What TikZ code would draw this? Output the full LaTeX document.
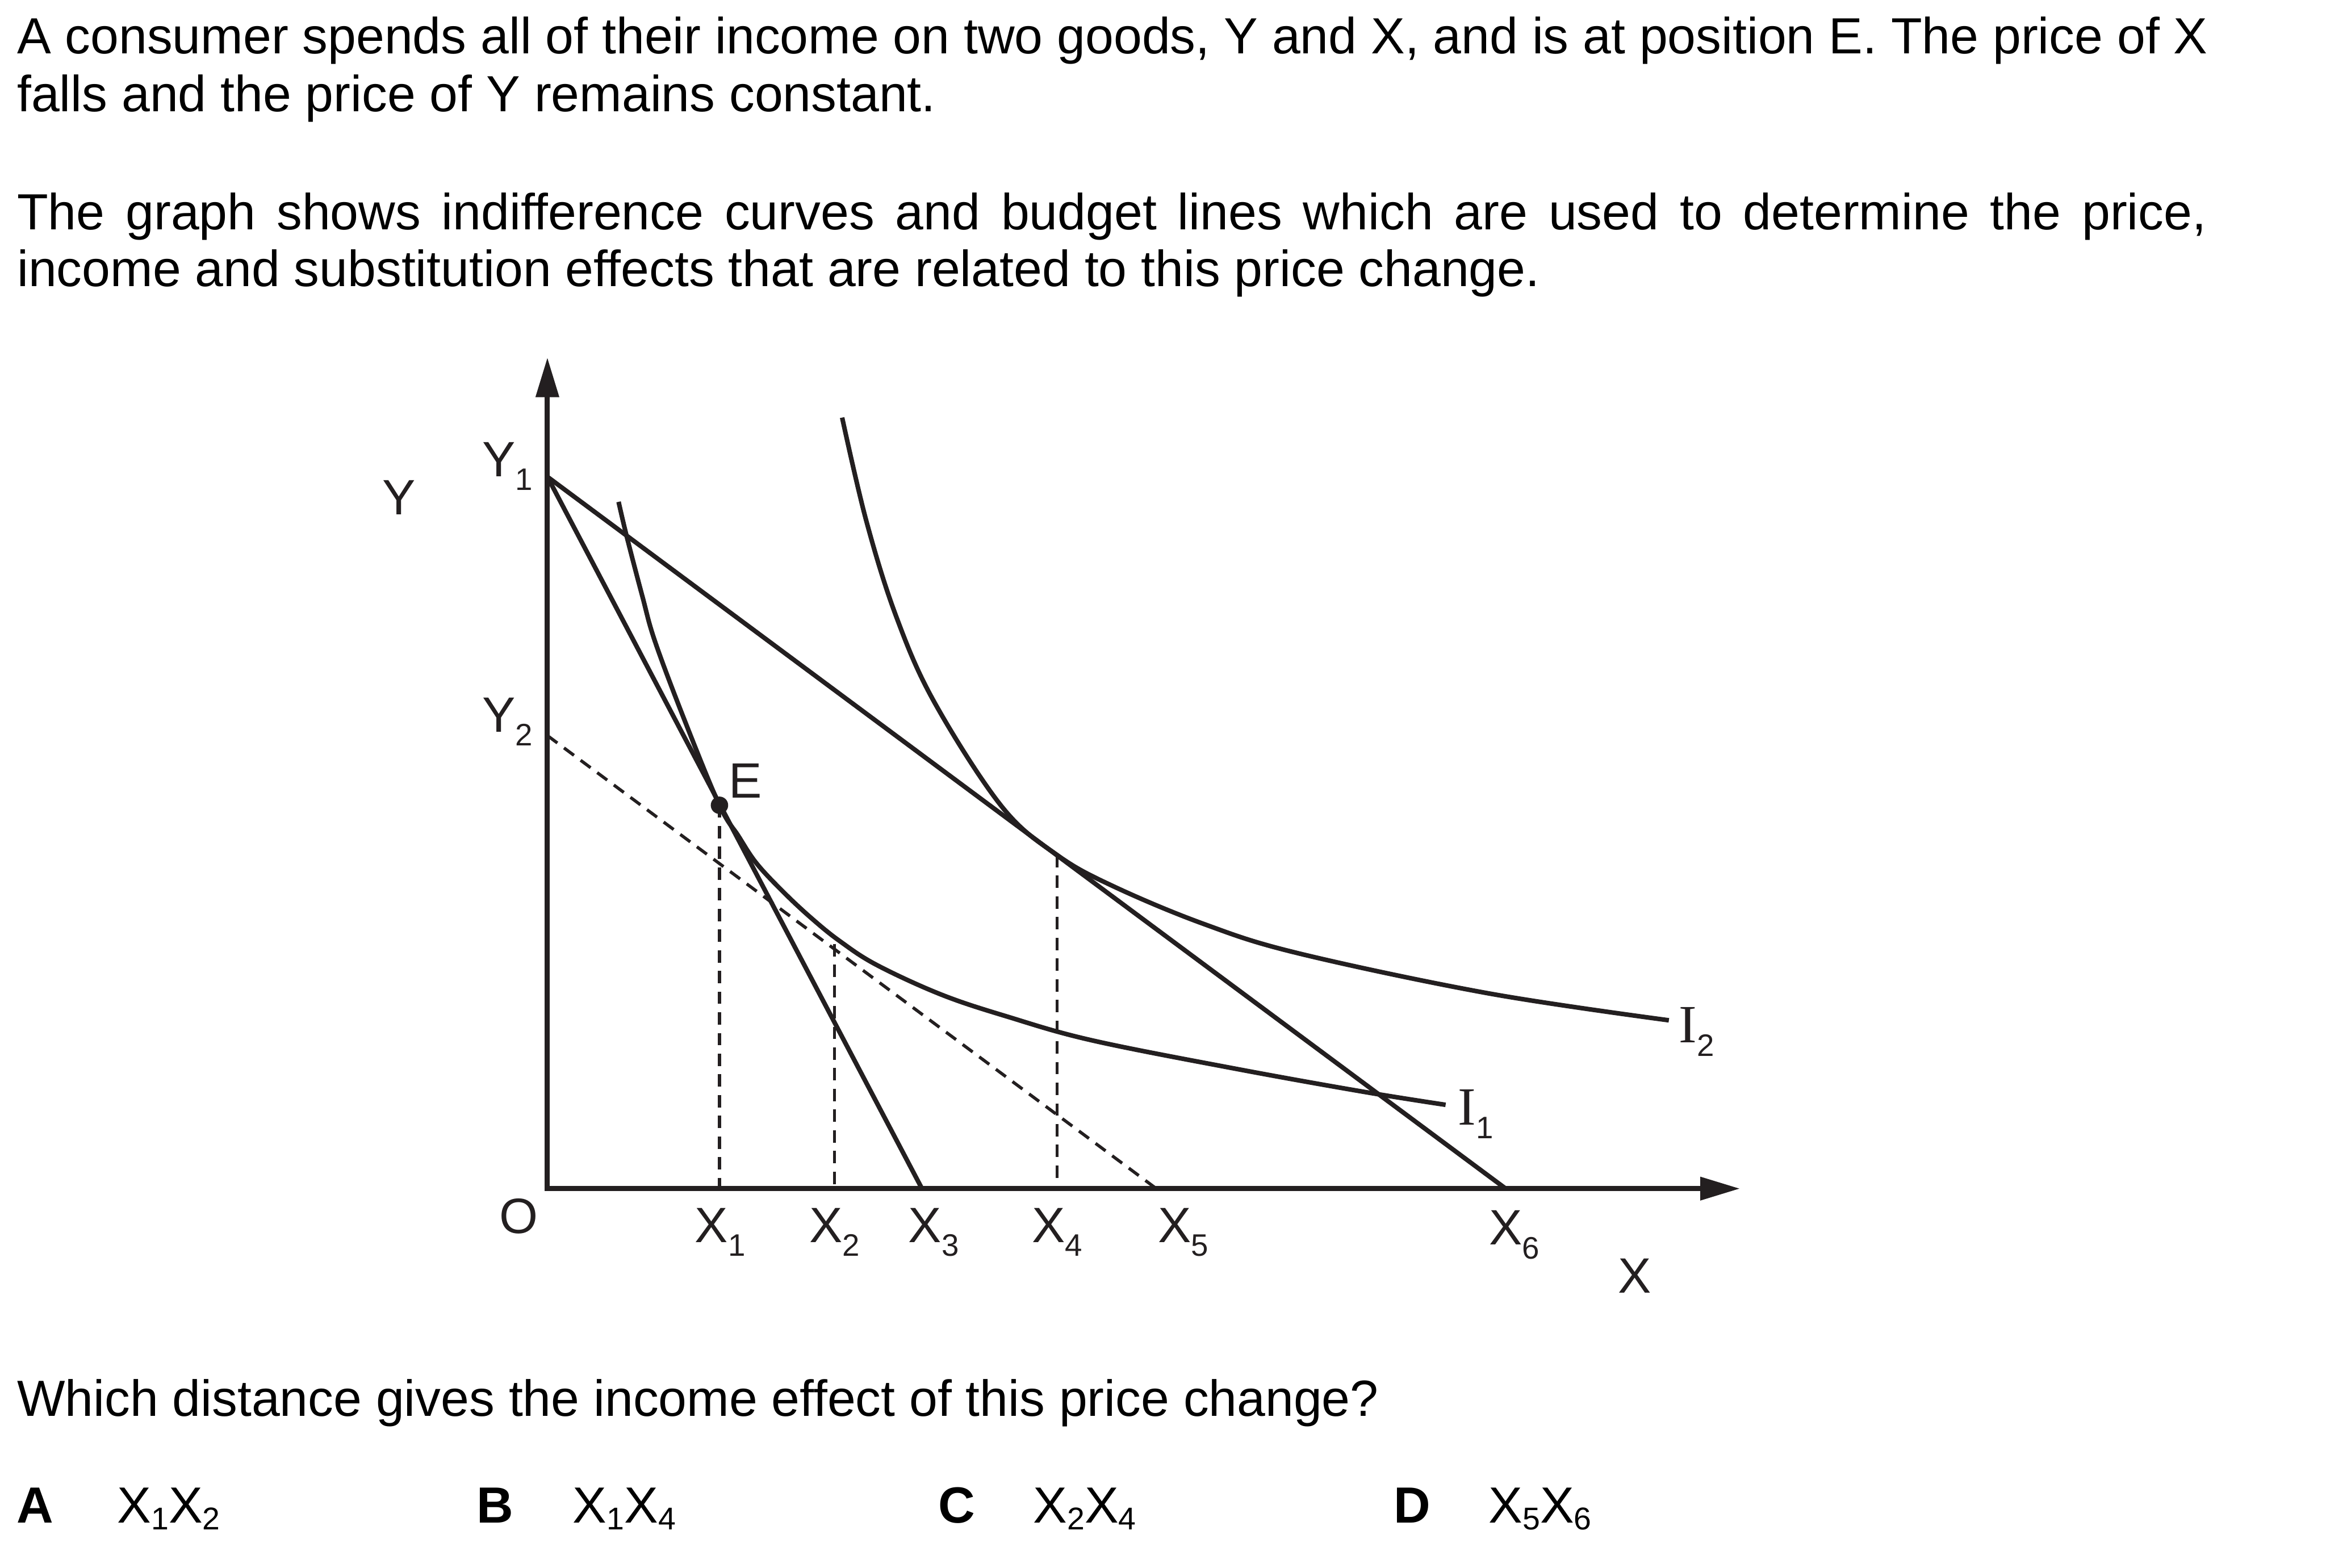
\documentclass[tikz,border=0pt]{standalone}
\usepackage{fontspec}
\setmainfont{Liberation Sans}
\newfontfamily\timesfont{Liberation Serif}
\usetikzlibrary{arrows.meta}
\definecolor{ink}{HTML}{231F20}
% lowered indices: in the graph and in the answer line
\newcommand{\dn}[1]{\raisebox{-3.3pt}{\fontsize{7.5}{8}\selectfont #1}}
\newcommand{\dnopt}[1]{\raisebox{-1.6pt}{\fontsize{7.6}{8}\selectfont #1}}
\begin{document}
\begin{tikzpicture}[x=0.3582pt,y=-0.3582pt,line join=miter,
  font=\fontsize{12}{13.8}\selectfont,
  axis/.style={ink,line width=1.25pt,{Triangle[length=9.6pt,width=5.4pt]}-{Triangle[length=9.6pt,width=5.4pt]}},
  budget/.style={ink,line width=1.1pt},
  icurve/.style={ink,line width=1.1pt},
  guide/.style={ink,line width=0.75pt,dash pattern=on 3pt off 2pt},
  lbl/.style={ink,inner sep=0pt,anchor=base},
  lblw/.style={ink,inner sep=0pt,anchor=base west},
  txt/.style={inner sep=0pt,anchor=base west,font=\fontsize{12.28}{14}\selectfont}]
  \useasboundingbox (0,0) rectangle (1568,1057);
  % Question text.
  \node[txt] (q1) at (11,36) {A consumer spends all of their income on two goods, Y and X, and is at position E. The price of X};
  \node[txt] (q2) at (11,75.3) {falls and the price of Y remains constant.};
  \node[txt] (q3) at (11,154.7) {\makebox[528.7pt][s]{The graph shows indifference curves and budget lines which are used to determine the price,}};
  \node[txt] (q4) at (11,193.3) {income and substitution effects that are related to this price change.};
  % Points on the axes.
  \coordinate (O) at (369,801.5);
  \coordinate (Ytop) at (369,241);
  \coordinate (Xend) at (1173,801.5);
  \coordinate (Y1) at (369,321.5);
  \coordinate (Y2) at (369,496);
  \coordinate (X1) at (485,801.5);
  \coordinate (X2) at (562.5,801.5);
  \coordinate (X3) at (621.5,801.5);
  \coordinate (X4) at (712.5,801.5);
  \coordinate (X5) at (779.5,801.5);
  \coordinate (X6) at (1015,801.5);
  \coordinate (E) at (485,543);
  \coordinate (T2) at (562.5,636.5);
  \coordinate (T4) at (712.5,576.5);
  % Axes and budget lines.
  \draw[axis] (Ytop) -- (O) -- (Xend);
  \draw[budget] (Y1) -- (X3);
  \draw[budget] (Y1) -- (X6);
  \draw[guide] (Y2) -- (X5);
  \draw[guide] (E) -- (X1);
  \draw[guide] (T2) -- (X2);
  \draw[guide] (T4) -- (X4);
  % Indifference curves I_1 and I_2.
  \draw[icurve] plot[smooth,tension=0.6] coordinates {(417,338.4) (422.4,361.4) (433,402) (441.7,433)
    (462,487) (485,543) (497.7,563.6) (510.1,582.3) (528.8,602.2) (547.5,619.6) (566.1,634.6)
    (591,650.7) (634.6,670.7) (679,685.5) (736,701.5) (832,720.5) (918,736) (974.5,745)};
  \draw[icurve] plot[smooth,tension=0.6] coordinates {(567.7,281.6) (584,351.3) (604.1,415.6)
    (629.8,473.4) (675.5,544.1) (712.7,576.6) (749.8,597.3) (810.8,622.8) (875.1,642.8)
    (1003.7,669.9) (1125,688)};
  \fill[ink] (E) circle[radius=2.1pt];
  % Labels.
  \node[lbl] (lY) at (269,347.2) {Y};
  \node[lblw] (lY1) at (324.6,321.4) {Y\dn{1}};
  \node[lblw] (lY2) at (324.6,493.8) {Y\dn{2}};
  \node[lbl] (lO) at (349.6,831.7) {O};
  \node[lbl] (lE) at (502.5,538) {E};
  \node[lblw] (lX1) at (467.9,837.7) {X\dn{1}};
  \node[lblw] (lX2) at (545,837.7) {X\dn{2}};
  \node[lblw] (lX3) at (611.8,837.7) {X\dn{3}};
  \node[lblw] (lX4) at (695.2,837.7) {X\dn{4}};
  \node[lblw] (lX5) at (780,837.7) {X\dn{5}};
  \node[lblw] (lX6) at (1003.4,839.5) {X\dn{6}};
  \node[lbl] (lX) at (1101.8,872) {X};
  \node[lblw] (lI1) at (982.3,758.5) {{\timesfont\fontsize{13}{14}\selectfont I}\dn{1}};
  \node[lblw] (lI2) at (1131.3,702.9) {{\timesfont\fontsize{13}{14}\selectfont I}\dn{2}};
  % Question and answers.
  \node[txt] (q5) at (11,955) {Which distance gives the income effect of this price change?};
  \node[txt] (kA) at (10.7,1027) {\bfseries A};
  \node[txt] (aA) at (78.5,1027) {X\dnopt{1}X\dnopt{2}};
  \node[txt] (kB) at (321,1027) {\bfseries B};
  \node[txt] (aB) at (385.6,1027) {X\dnopt{1}X\dnopt{4}};
  \node[txt] (kC) at (632,1027) {\bfseries C};
  \node[txt] (aC) at (696,1027) {X\dnopt{2}X\dnopt{4}};
  \node[txt] (kD) at (939,1027) {\bfseries D};
  \node[txt] (aD) at (1003,1027) {X\dnopt{5}X\dnopt{6}};
\end{tikzpicture}
\end{document}
